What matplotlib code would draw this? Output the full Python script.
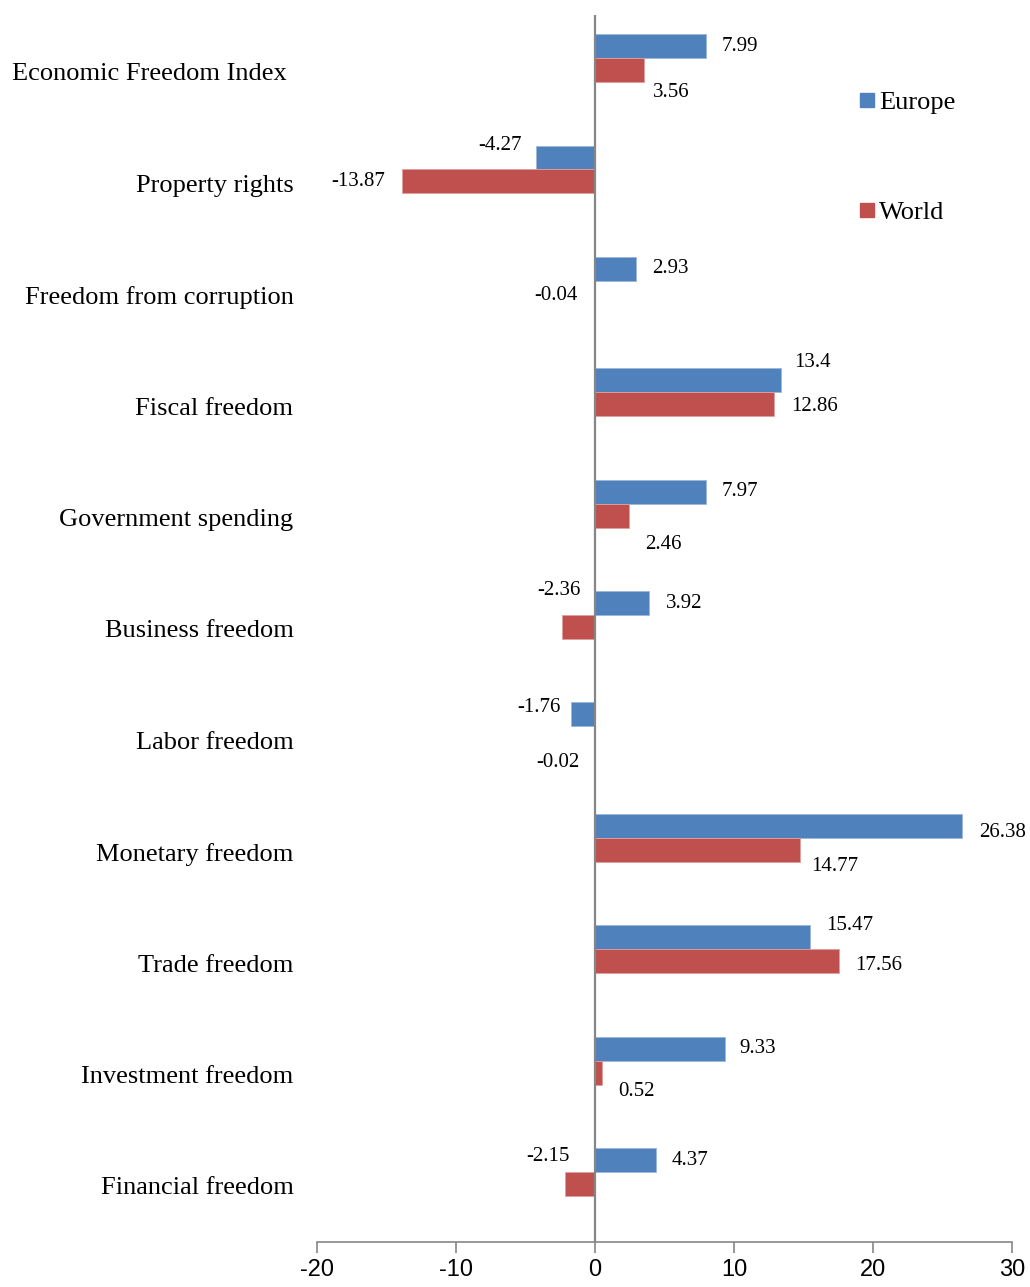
import numpy as np
import matplotlib
matplotlib.use('Agg')
import matplotlib.pyplot as plt
from matplotlib.lines import Line2D

categories = ['Economic Freedom Index ', 'Property rights', 'Freedom from corruption',
              'Fiscal freedom', 'Government spending', 'Business freedom',
              'Labor freedom', 'Monetary freedom', 'Trade freedom',
              'Investment freedom', 'Financial freedom']
europe = [7.99, -4.27, 2.93, 13.4, 7.97, 3.92, -1.76, 26.38, 15.47, 9.33, 4.37]
world = [3.56, -13.87, -0.04, 12.86, 2.46, -2.36, -0.02, 14.77, 17.56, 0.52, -2.15]
x_ticks = [-20, -10, 0, 10, 20, 30]

# label offsets in pixels (dx from bar end, dy from bar centre; +dy = up)
europe_off = [(16, 0), (-14, 12), (16, 0), (13, 18), (16, 0), (16, 0),
              (-10, 7), (17, -7), (16, 12), (15, 0), (16, 0)]
world_off = [(8, -22), (-17, 0), (-17, -3), (17, -2), (16, -29), (18, 37),
             (-15, -24), (11, -17), (16, -4), (16, -19), (4, 27)]

blue = '#4F81BD'
red = '#C0504D'
serif = ['Liberation Serif', 'DejaVu Serif']

fig = plt.figure(figsize=(10.3, 12.87), dpi=100)
ax = fig.add_axes([0.3078, 0.035, 0.6747, 0.9533])

y = np.arange(len(categories))
h = 0.215
ax.barh(y - h / 2, europe, height=h, color=blue, edgecolor='#9DB7DA', linewidth=0.6)
ax.barh(y + h / 2, world, height=h, color=red, edgecolor='#E0A09E', linewidth=0.6)

ax.set_xlim(-20, 30)
ax.set_ylim(len(categories) - 0.372, -0.386)
ax.set_xticks(x_ticks)
ax.set_xticklabels([str(t) for t in x_ticks], fontsize=17,
                   family=['Liberation Sans Narrow', 'Liberation Sans'])
ax.set_yticks(y + 0.125)
ax.set_yticklabels(categories, fontsize=19, family=serif)
ax.tick_params(axis='y', length=0, pad=17)
ax.tick_params(axis='x', length=8, width=1.2, color='#868686', pad=4, direction='out')

for s in ['left', 'top', 'right']:
    ax.spines[s].set_visible(False)
ax.spines['bottom'].set_color('#868686')
ax.spines['bottom'].set_linewidth(1.2)
ax.axvline(0, color='#868686', linewidth=1.6, zorder=3)

px = 72 / fig.dpi
for vals, offs, yc in [(europe, europe_off, y - h / 2), (world, world_off, y + h / 2)]:
    for v, (dx, dy), yy in zip(vals, offs, yc):
        ha = 'left' if v > 0 else 'right'
        ax.annotate(f'{v:g}', xy=(v, yy), xytext=(dx * px, dy * px),
                    textcoords='offset points', ha=ha, va='center',
                    fontsize=15, family=serif)

handles = [Line2D([], [], marker='s', linestyle='none', markersize=9.5, color=blue),
           Line2D([], [], marker='s', linestyle='none', markersize=9.5, color=red)]
ax.legend(handles, ['Europe', 'World'], loc='upper left', bbox_to_anchor=(0.765, 0.947),
          frameon=False, prop={'family': serif, 'size': 19}, labelspacing=3.28,
          handlelength=0.6, handletextpad=0.15, borderaxespad=0)

fig.savefig('out.png', dpi=100)
